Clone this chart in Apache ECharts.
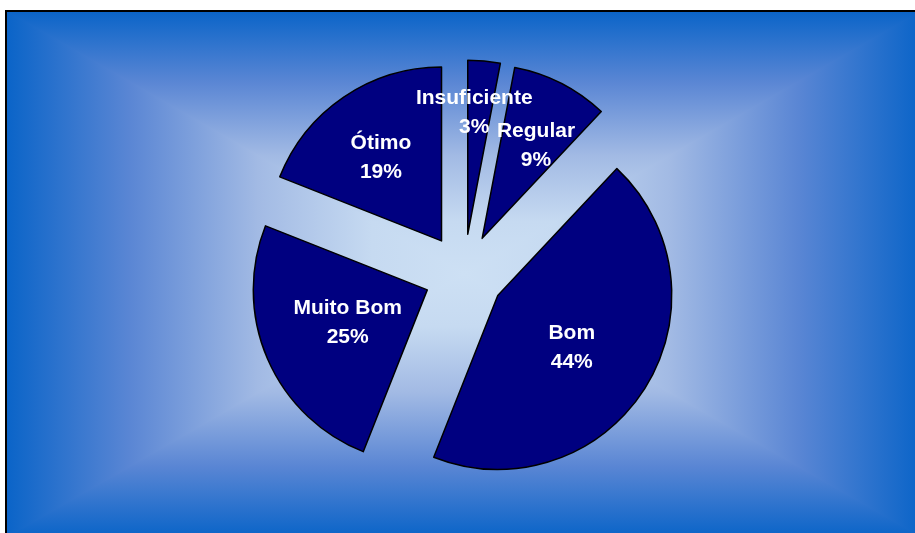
<!DOCTYPE html>
<html>
<head>
<meta charset="utf-8">
<script src="https://cdn.jsdelivr.net/npm/echarts@6/dist/echarts.min.js"></script>
<style>
html, body { margin: 0; padding: 0; background: #fff; }
#chart { width: 915px; height: 533px; }
</style>
</head>
<body>
<div id="chart"></div>
<script>
var categorias = ['Insuficiente', 'Regular', 'Bom', 'Muito Bom', 'Ótimo'];
var valores = [3, 9, 44, 25, 19];
// label nudges [dx, dy] in px, to sit them where the original put them
var ajusteLabel = [[-2, -32], [13, -12], [-2, 4], [3, -3], [-10, -9]];

var chart = echarts.init(document.getElementById('chart'));

var cx = 464, cy = 274;
var L = 6, T = 11, R = 2 * cx - L, B = 2 * cy - T;

function grad(x0, y0, x1, y1) {
    return {
        type: 'linear', x: x0, y: y0, x2: x1, y2: y1, global: true,
        colorStops: [
            { offset: 0, color: '#0a64c8' },
            { offset: 0.27, color: '#5a86d4' },
            { offset: 0.55, color: '#a2bae4' },
            { offset: 0.8, color: '#c6daf1' },
            { offset: 1, color: '#cde0f4' }
        ]
    };
}

// fake "from centre" rectangle gradient with 4 triangles
function tri(pts, g) {
    return {
        type: 'polygon', silent: true, z: -10,
        shape: { points: pts },
        style: { fill: g, stroke: g, lineWidth: 2, lineJoin: 'round' }
    };
}

option = {
    backgroundColor: '#fff',
    animation: false,
    graphic: [
        tri([[L, T], [R, T], [cx, cy]], grad(cx, T, cx, cy)),
        tri([[L, B], [R, B], [cx, cy]], grad(cx, B, cx, cy)),
        tri([[L, T], [L, B], [cx, cy]], grad(L, cy, cx, cy)),
        tri([[R, T], [R, B], [cx, cy]], grad(R, cy, cx, cy)),
        {
            type: 'rect', silent: true, z: -5,
            shape: { x: L, y: T, width: R - L, height: B - T },
            style: { fill: null, stroke: '#000', lineWidth: 2 }
        }
    ],
    series: [
        {
            type: 'pie',
            center: [cx, cy],
            radius: 174,
            startAngle: 90,
            clockwise: true,
            selectedMode: 'multiple',
            selectedOffset: 40,
            emphasis: { scale: false },
            itemStyle: {
                color: '#000080',
                borderColor: '#000',
                borderWidth: 1.5
            },
            label: {
                show: true,
                position: 'inside',
                color: '#fff',
                fontFamily: 'Liberation Sans, Arial, sans-serif',
                fontWeight: 'bold',
                fontSize: 21,
                lineHeight: 29,
                formatter: function (p) {
                    return p.name + '\n' + Math.round(p.percent) + '%';
                }
            },
            labelLine: { show: false },
            labelLayout: function (p) {
                var a = ajusteLabel[p.dataIndex];
                return { dx: a[0], dy: a[1] };
            },
            data: categorias.map(function (n, i) {
                return { name: n, value: valores[i], selected: true };
            })
        }
    ]
};

chart.setOption(option);
</script>
</body>
</html>
